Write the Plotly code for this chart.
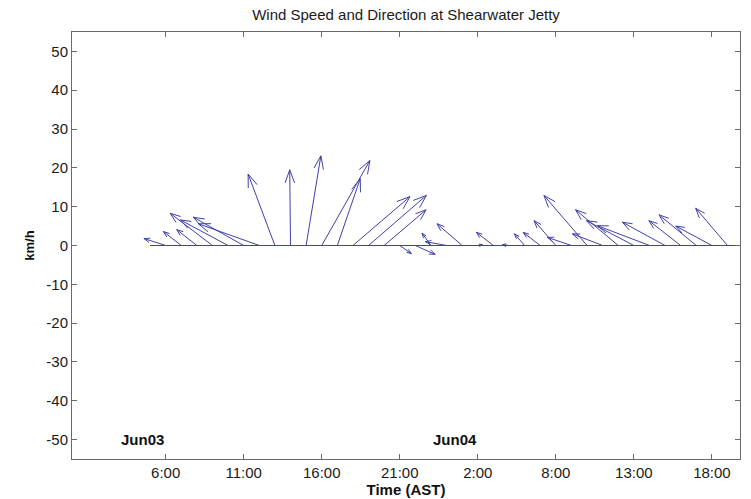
import math
import plotly.graph_objects as go

# ---- data (hours since Jun03 00:00 AST, wind components in km/h) ----
hours = [5, 6, 7, 8, 9, 10, 11, 12, 13, 14, 15, 16, 17, 18, 19, 20, 21, 22, 23, 24,
         25, 26, 27, 28, 29, 30, 31, 32, 33, 34, 35, 36, 37, 38, 39, 40, 41, 42, 43]
u_kmh = [0.0, -5.6, -4.6, -5.2, -10.9, -12.3, -13.0, -15.7, -6.9, -0.2, 3.8, 12.4, 5.9, 14.7,
         14.9, 10.8, 3.0, 5.1, -2.3, -5.5, -6.5, 1.2, -4.4, -1.7, -2.6, -4.4, -5.6, -6.2,
         -11.1, -7.8, -11.0, -12.2, -13.4, -11.0, -8.2, -9.6, -9.3, -8.2, 0.0]
v_kmh = [0.0, 1.8, 3.6, 4.1, 8.3, 6.6, 7.3, 5.6, 18.4, 19.5, 23.1, 21.9, 17.2, 12.6,
         12.9, 9.2, -2.1, -2.3, 3.2, 1.0, 5.6, 0.2, 3.4, 0.2, 3.0, 3.4, 6.4, 2.1,
         12.9, 3.0, 9.2, 6.4, 5.1, 6.0, 6.4, 7.9, 5.0, 9.6, 0.0]

tick_hours = [6, 11, 16, 21, 26, 31, 36, 41]
tick_text = ["6:00", "11:00", "16:00", "21:00", "2:00", "8:00", "13:00", "18:00"]
y_ticks = [-50, -40, -30, -20, -10, 0, 10, 20, 30, 40, 50]
y_tick_text = [str(v) for v in y_ticks]
day_labels = ["Jun03", "Jun04"]
day_label_hours = [3, 23]

# ---- layout geometry ----
W, H = 751, 499
ML, MR, MT, MB = 72, 11, 32, 40
XR = [0, 42.8]
YR = [-55, 55]
pw = W - ML - MR
ph = H - MT - MB
sx = pw / (XR[1] - XR[0])   # px per hour
sy = ph / (YR[1] - YR[0])   # px per km/h
K = sy / sx                 # hours per km/h so vectors keep true direction

color = "rgb(64,64,170)"
FONT = "Liberation Sans, Arial"

xs, ys = [], []
for t, u, v in zip(hours, u_kmh, v_kmh):
    if u == 0 and v == 0:
        continue
    x0, y0 = t, 0.0
    x1, y1 = t + K * u, v
    xs += [x0, x1, None]
    ys += [y0, y1, None]
    # arrow head computed in pixel space
    dxp, dyp = u * sy, v * sy
    L = math.hypot(dxp, dyp)
    hl = min(0.15 * L + 3.0, 14.0)
    ang = math.atan2(dyp, dxp)
    for s in (1, -1):
        a = ang + math.pi - s * math.radians(20)
        hx = x1 + hl * math.cos(a) / sx
        hy = y1 + hl * math.sin(a) / sy
        xs += [x1, hx, None]
        ys += [y1, hy, None]

fig = go.Figure()
fig.add_trace(go.Scatter(x=[hours[0], hours[-1]], y=[0, 0], mode="lines",
                         line=dict(color=color, width=1), hoverinfo="skip",
                         showlegend=False))
fig.add_trace(go.Scatter(x=xs, y=ys, mode="lines",
                         line=dict(color=color, width=1), hoverinfo="skip",
                         showlegend=False))

for lab, hx in zip(day_labels, day_label_hours):
    fig.add_annotation(x=hx, y=-50, xref="x", yref="y", text="<b>%s</b>" % lab,
                       showarrow=False, xanchor="left", yanchor="middle",
                       font=dict(family=FONT, size=15, color="#111"))

axis_common = dict(showline=True, linecolor="#6a6a6a", linewidth=1, mirror="ticks",
                   ticks="inside", ticklen=5, tickcolor="#6a6a6a", showgrid=False,
                   zeroline=False, automargin=False,
                   tickfont=dict(family=FONT, size=15, color="#1a1a1a"))

fig.update_layout(
    width=W, height=H, autosize=False,
    margin=dict(l=ML, r=MR, t=MT, b=MB),
    paper_bgcolor="white", plot_bgcolor="white",
    title=dict(text="Wind Speed and Direction at Shearwater Jetty",
               x=(ML + pw / 2) / W, xanchor="center", y=1 - 15 / H, yanchor="middle",
               yref="container",
               font=dict(family=FONT, size=15, color="#1a1a1a")),
    xaxis=dict(range=XR, tickvals=tick_hours, ticktext=tick_text,
               title=dict(text="<b>Time (AST)</b>", standoff=0,
                          font=dict(family=FONT, size=15, color="#111")),
               **axis_common),
    yaxis=dict(range=YR, tickvals=y_ticks, ticktext=y_tick_text,
               title=dict(text="<b>km/h</b>", standoff=8,
                          font=dict(family=FONT, size=13, color="#111")),
               **axis_common),
)

fig.write_html("out.html")
